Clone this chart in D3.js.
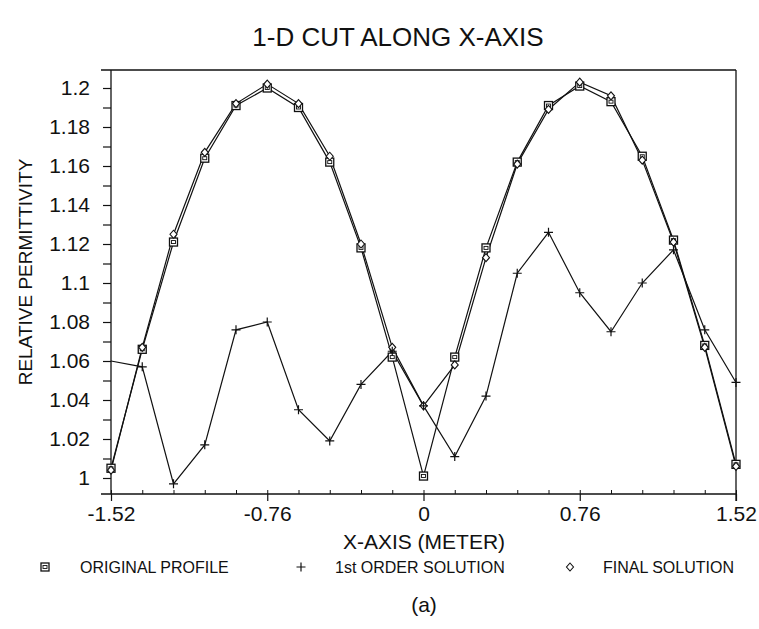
<!DOCTYPE html>
<html>
<head>
<meta charset="utf-8">
<script src="https://cdn.jsdelivr.net/npm/d3@7"></script>
<style>
  html, body { margin: 0; padding: 0; background: #fff; }
  svg { display: block; }
  text { font-family: "Liberation Sans", Arial, Helvetica, sans-serif; fill: #111; }
</style>
</head>
<body>
<script>
// ---- data ----
const xValues = [-1.52, -1.368, -1.216, -1.064, -0.912, -0.76, -0.608, -0.456, -0.304, -0.152, 0,
                 0.152, 0.304, 0.456, 0.608, 0.76, 0.912, 1.064, 1.216, 1.368, 1.52];
const originalProfile = [1.005, 1.066, 1.121, 1.164, 1.191, 1.200, 1.190, 1.162, 1.118, 1.062, 1.001,
                         1.062, 1.118, 1.162, 1.191, 1.201, 1.193, 1.165, 1.122, 1.068, 1.007];
const firstOrder = [1.060, 1.057, 0.997, 1.017, 1.076, 1.080, 1.035, 1.019, 1.048, 1.065, 1.037,
                    1.011, 1.042, 1.105, 1.126, 1.095, 1.075, 1.100, 1.117, 1.076, 1.049];
const finalSolution = [1.004, 1.067, 1.125, 1.167, 1.192, 1.202, 1.192, 1.165, 1.120, 1.067, 1.037,
                       1.058, 1.113, 1.161, 1.189, 1.203, 1.196, 1.163, 1.121, 1.067, 1.006];
const xTickLabels = [-1.52, -0.76, 0, 0.76, 1.52];
const yTickLabels = [1, 1.02, 1.04, 1.06, 1.08, 1.1, 1.12, 1.14, 1.16, 1.18, 1.2];
const seriesNames = ["ORIGINAL PROFILE", "1st ORDER SOLUTION", "FINAL SOLUTION"];

// ---- layout ----
const W = 759, H = 629;
const pLeft = 111, pRight = 736, pTop = 70, pBottom = 494;

const svg = d3.select("body").append("svg").attr("width", W).attr("height", H);

const x = d3.scaleLinear().domain([-1.52, 1.52]).range([pLeft, pRight]);
const y = d3.scaleLinear().domain([1 - 16/1950, 1.2 + 18/1950]).range([pBottom, pTop]);

const ink = "#111";

// frame
const frame = svg.append("g").attr("stroke", ink).attr("stroke-width", 1.3).attr("fill", "none");
frame.append("line").attr("x1", pLeft - 10).attr("x2", pRight).attr("y1", pTop).attr("y2", pTop);
frame.append("line").attr("x1", pLeft - 10).attr("x2", pRight).attr("y1", pBottom).attr("y2", pBottom);
frame.append("line").attr("x1", pRight).attr("x2", pRight).attr("y1", pTop).attr("y2", pBottom + 7);

// y axis
const yMinor = d3.range(0, 21).map(i => 1 + i * 0.01);
const yAxis = d3.axisLeft(y).tickValues(yMinor).tickSize(8).tickSizeOuter(0)
  .tickFormat(d => yTickLabels.some(v => Math.abs(v - d) < 1e-6) ? d3.format("~g")(+d.toFixed(2)) : "");
const gy = svg.append("g").attr("transform", `translate(${pLeft},0)`).call(yAxis);
gy.select(".domain").attr("stroke", ink).attr("stroke-width", 1.3)
  .attr("d", `M0,${pTop}V${pBottom}`);
gy.selectAll(".tick line").attr("stroke", ink).attr("stroke-width", 1.2);
gy.selectAll(".tick text").attr("x", -21).attr("font-size", 21)
  .style("font-family", '"Liberation Sans", Arial, sans-serif').attr("fill", ink);

// x axis: minor inward ticks at every sample, major outward ticks at labels
const gxMinor = svg.append("g").attr("transform", `translate(0,${pBottom})`)
  .call(d3.axisTop(x).tickValues(xValues).tickSize(4).tickFormat(""));
gxMinor.select(".domain").remove();
gxMinor.selectAll(".tick line").attr("stroke", ink).attr("stroke-width", 1);

const gx = svg.append("g").attr("transform", `translate(0,${pBottom})`)
  .call(d3.axisBottom(x).tickValues(xTickLabels).tickSize(7).tickSizeOuter(0).tickFormat(d => String(d)));
gx.select(".domain").remove();
gx.selectAll(".tick line").attr("stroke", ink).attr("stroke-width", 1.2);
gx.selectAll(".tick text").attr("y", 12).attr("font-size", 21)
  .style("font-family", '"Liberation Sans", Arial, sans-serif').attr("fill", ink);

// lines
const line = d3.line().x((d, i) => x(xValues[i])).y(d => y(d));
const seriesData = [originalProfile, firstOrder, finalSolution];
seriesData.forEach(s => {
  svg.append("path").datum(s).attr("d", line)
    .attr("fill", "none").attr("stroke", ink).attr("stroke-width", 1.2);
});

// markers
function squareMarker(g, cx, cy) {
  g.append("rect").attr("x", cx - 4).attr("y", cy - 4).attr("width", 8).attr("height", 8)
    .attr("fill", "#fff").attr("stroke", ink).attr("stroke-width", 1.3);
  g.append("rect").attr("x", cx - 2).attr("y", cy - 1.5).attr("width", 4).attr("height", 3)
    .attr("fill", "none").attr("stroke", ink).attr("stroke-width", 0.9);
}
function plusMarker(g, cx, cy) {
  g.append("path").attr("d", `M${cx - 4.5},${cy}H${cx + 4.5}M${cx},${cy - 4.5}V${cy + 4.5}`)
    .attr("stroke", ink).attr("stroke-width", 1.2).attr("fill", "none");
}
function diamondMarker(g, cx, cy) {
  g.append("path").attr("d", `M${cx},${cy - 4}L${cx + 3.5},${cy}L${cx},${cy + 4}L${cx - 3.5},${cy}Z`)
    .attr("stroke", ink).attr("stroke-width", 1.1).attr("fill", "#fff");
}
const markerFns = [squareMarker, plusMarker, diamondMarker];
const gm = svg.append("g");
[0, 2, 1].forEach(k => {
  seriesData[k].forEach((v, i) => {
    if (k === 1 && i === 0) return;
    markerFns[k](gm, x(xValues[i]), y(v));
  });
});

// texts
svg.append("text").attr("x", 398).attr("y", 46).attr("text-anchor", "middle")
  .attr("font-size", 26).text("1-D CUT ALONG X-AXIS");
svg.append("text").attr("transform", "translate(32,272) rotate(-90)").attr("text-anchor", "middle")
  .attr("font-size", 19).text("RELATIVE PERMITTIVITY");
svg.append("text").attr("x", 424).attr("y", 549).attr("text-anchor", "middle")
  .attr("font-size", 21).text("X-AXIS (METER)");

// legend
const legY = 567;
const legItems = [
  { mx: 45, tx: 80 },
  { mx: 301, tx: 335 },
  { mx: 570, tx: 603 }
];
legItems.forEach((it, k) => {
  markerFns[k](svg, it.mx, legY);
  svg.append("text").attr("x", it.tx).attr("y", legY + 6).attr("font-size", 16).text(seriesNames[k]);
});

svg.append("text").attr("x", 424).attr("y", 612).attr("text-anchor", "middle")
  .attr("font-size", 21).text("(a)");
</script>
</body>
</html>
